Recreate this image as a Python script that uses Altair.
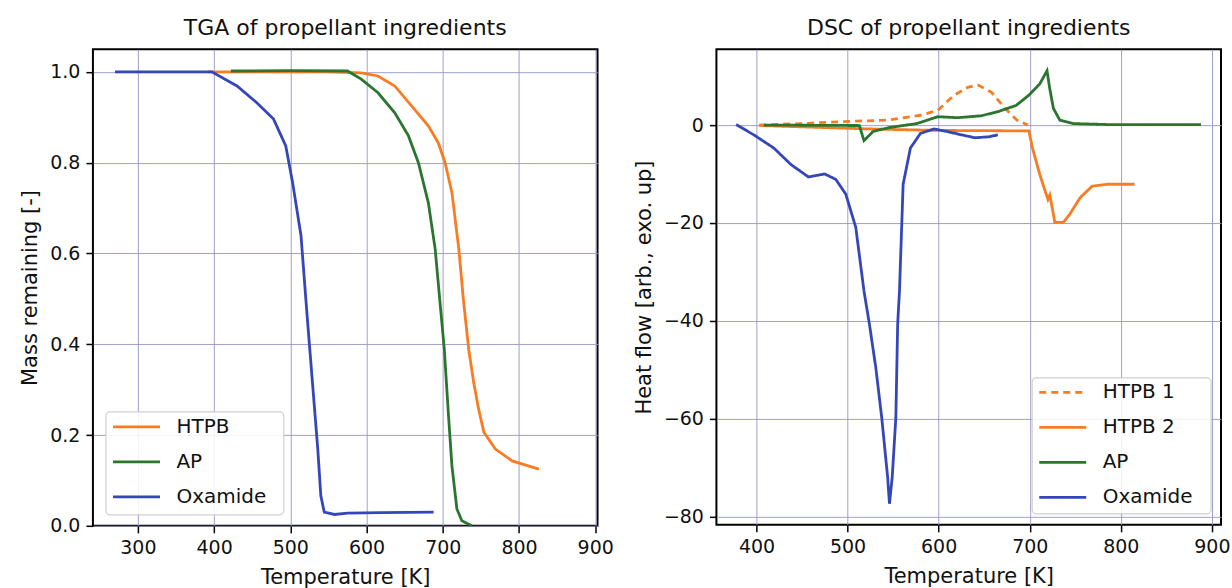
import altair as alt
import pandas as pd

FONT = "DejaVu Sans"

# ---- TGA: mass remaining vs temperature ----
tga_htpb_T = [392, 450, 500, 550, 593, 615, 637, 659, 681, 694, 703, 712, 721, 727, 734, 740.5, 747, 754, 769, 791, 826]
tga_htpb_m = [1.0, 1.0, 1.0, 1.0, 0.998, 0.991, 0.969, 0.925, 0.881, 0.844, 0.800, 0.734, 0.610, 0.499, 0.389, 0.316, 0.257, 0.206, 0.169, 0.143, 0.125]

tga_ap_T = [422, 500, 575, 593, 615, 637, 655, 668, 681, 690, 696, 702, 707.5, 712, 718.5, 725, 738]
tga_ap_m = [1.002, 1.003, 1.002, 0.984, 0.954, 0.910, 0.859, 0.800, 0.712, 0.610, 0.499, 0.389, 0.243, 0.132, 0.037, 0.011, 0.0]

tga_ox_T = [270, 350, 397, 430, 456, 478, 494, 503, 514, 522, 529, 536, 540, 544.5, 558, 575, 620, 688]
tga_ox_m = [1.0, 1.0, 1.0, 0.969, 0.932, 0.896, 0.837, 0.756, 0.639, 0.463, 0.316, 0.169, 0.066, 0.030, 0.025, 0.028, 0.029, 0.030]

# ---- DSC: heat flow vs temperature ----
dsc_htpb1_T = [403, 449, 494, 543, 580, 599, 617, 632, 643, 658, 673, 686, 698]
dsc_htpb1_q = [0.0, 0.3, 0.7, 1.0, 2.0, 3.0, 6.1, 7.7, 8.2, 6.7, 3.4, 1.0, 0.0]

dsc_htpb2_T = [403, 524, 599, 699, 703, 711, 718, 720, 722, 726, 727.5, 737, 744, 755.5, 768.5, 785, 815]
dsc_htpb2_q = [-0.1, -0.8, -1.1, -1.2, -4.7, -10.1, -14.1, -15.2, -14.3, -18.2, -19.9, -19.9, -18.2, -14.8, -12.5, -12.1, -12.1]

dsc_ap_T = [408, 513, 518, 528, 546, 576, 599, 621, 647, 666, 685, 699, 711, 719, 722, 726, 733, 748, 785, 888]
dsc_ap_q = [0.0, -0.1, -3.2, -1.3, -0.5, 0.3, 1.7, 1.5, 1.9, 2.8, 4.0, 6.1, 8.4, 11.1, 7.4, 3.4, 1.0, 0.3, 0.1, 0.1]

dsc_ox_T = [377.6, 397, 419, 438, 457, 475, 487, 498, 509, 518, 524, 531, 537.5, 544, 546, 549, 553, 555, 557, 561, 569, 580, 595, 606, 625, 640, 655, 665]
dsc_ox_q = [0.1, -2.0, -4.7, -8.1, -10.6, -10.0, -11.1, -14.1, -20.9, -33.9, -40.7, -49.6, -59.8, -72.0, -77.4, -72.0, -59.8, -40.7, -33.9, -12.1, -4.7, -1.7, -0.8, -1.2, -2.0, -2.6, -2.4, -2.0]

ORANGE = "#f97c22"
GREEN = "#2b762f"
BLUE = "#3547b8"
GRID = "#9595c6"

LINE_W = 2.8
SYMBOL_LEN = 47


def long_table(series):
    rows = []
    for name, xs, ys in series:
        for i, (t, v) in enumerate(zip(xs, ys)):
            rows.append({"series": name, "T": t, "v": v, "i": i})
    return pd.DataFrame(rows)


tga = long_table([
    ("HTPB", tga_htpb_T, tga_htpb_m),
    ("AP", tga_ap_T, tga_ap_m),
    ("Oxamide", tga_ox_T, tga_ox_m),
])

dsc = long_table([
    ("HTPB 1", dsc_htpb1_T, dsc_htpb1_q),
    ("HTPB 2", dsc_htpb2_T, dsc_htpb2_q),
    ("AP", dsc_ap_T, dsc_ap_q),
    ("Oxamide", dsc_ox_T, dsc_ox_q),
])


def legend(x, y):
    # entries only; the framed box behind them is a separate layer
    return alt.Legend(
        title=None, orient="none", legendX=x, legendY=y, padding=0,
        symbolType="stroke", symbolSize=SYMBOL_LEN ** 2,
        symbolStrokeWidth=LINE_W, labelFontSize=20, labelFont=FONT,
        labelColor="#111", rowPadding=0, labelOffset=15,
    )


def legend_box(x, y, w, h):
    return alt.Chart(pd.DataFrame({"box": [0]})).mark_rect(
        fill="white", fillOpacity=0.85, stroke="#cfcfcf", strokeWidth=1.2, cornerRadius=4
    ).encode(x=alt.value(x), x2=alt.value(x + w), y=alt.value(y), y2=alt.value(y + h))


def title(text):
    return alt.TitleParams(text=text, fontSize=22, font=FONT, fontWeight="normal",
                           color="#111", anchor="middle", offset=9)


tga_lines = alt.Chart(tga).mark_line(strokeWidth=LINE_W, clip=True).encode(
    x=alt.X("T:Q", scale=alt.Scale(domain=[241, 903], nice=False, zero=False),
            axis=alt.Axis(values=[300, 400, 500, 600, 700, 800, 900], title="Temperature [K]")),
    y=alt.Y("v:Q", scale=alt.Scale(domain=[0, 1.05], nice=False),
            axis=alt.Axis(values=[0, 0.2, 0.4, 0.6, 0.8, 1.0], format=".1f",
                          title="Mass remaining [-]")),
    color=alt.Color("series:N",
                    scale=alt.Scale(domain=["HTPB", "AP", "Oxamide"], range=[ORANGE, GREEN, BLUE]),
                    legend=legend(18.6, 353)),
    order="i:Q",
)
tga_chart = alt.layer(legend_box(13, 363, 178, 103), tga_lines).properties(
    width=505, height=477, title=title("TGA of propellant ingredients"))

dsc_names = ["HTPB 1", "HTPB 2", "AP", "Oxamide"]
dsc_lines = alt.Chart(dsc).mark_line(strokeWidth=LINE_W, clip=True).encode(
    x=alt.X("T:Q", scale=alt.Scale(domain=[356, 910], nice=False, zero=False),
            axis=alt.Axis(values=[400, 500, 600, 700, 800, 900], title="Temperature [K]")),
    y=alt.Y("v:Q", scale=alt.Scale(domain=[-81.7, 15.5], nice=False, zero=False),
            axis=alt.Axis(values=[-80, -60, -40, -20, 0], format="d",
                          title="Heat flow [arb., exo. up]")),
    color=alt.Color("series:N",
                    scale=alt.Scale(domain=dsc_names, range=[ORANGE, ORANGE, GREEN, BLUE]),
                    legend=legend(321.6, 318.5)),
    strokeDash=alt.StrokeDash("series:N",
                              scale=alt.Scale(domain=dsc_names, range=[[7, 5], [1, 0], [1, 0], [1, 0]]),
                              legend=legend(321.6, 318.5)),
    order="i:Q",
)
dsc_chart = alt.layer(legend_box(316, 329, 179, 136), dsc_lines).properties(
    width=505, height=476, title=title("DSC of propellant ingredients"))

chart = alt.hconcat(tga_chart, dsc_chart, spacing=119, bounds="flush").resolve_scale(
    color="independent", strokeDash="independent", x="independent", y="independent"
).resolve_legend(color="independent", strokeDash="independent").properties(
    padding={"left": 18, "top": 16, "right": 0, "bottom": 0},
    background="white",
).configure_view(
    stroke="black", strokeWidth=2
).configure_axis(
    domain=False, grid=True, gridColor=GRID, gridWidth=1, gridOpacity=0.9,
    tickColor="black", tickWidth=1.5, tickSize=7,
    labelFont=FONT, labelFontSize=19, labelColor="#111", labelPadding=6,
    titleFont=FONT, titleFontSize=21, titleFontWeight="normal", titleColor="#111",
    titlePadding=9,
)

chart.save("out.html", embed_options={"renderer": "svg", "actions": False})
